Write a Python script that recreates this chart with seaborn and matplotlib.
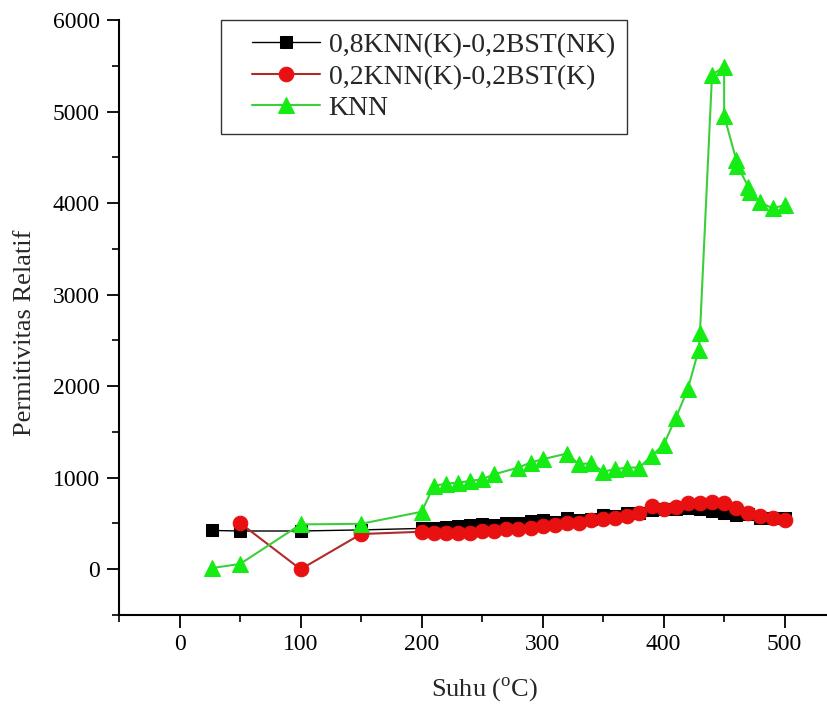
import matplotlib
matplotlib.use("Agg")
import matplotlib.pyplot as plt
import seaborn as sns
import pandas as pd
from matplotlib.ticker import MultipleLocator
from matplotlib.legend_handler import HandlerLine2D
from matplotlib.lines import Line2D

# ---- data ----
temp_nk = [27, 50, 100, 150, 200, 210, 220, 230, 240, 250, 260, 270, 280, 290, 300,
           310, 320, 330, 340, 350, 360, 370, 380, 390, 400, 410, 420, 430, 440, 450,
           460, 470, 480, 490, 500]
perm_nk = [424, 418, 418, 430, 446, 455, 460, 470, 480, 490, 480, 510, 500, 526, 537,
           520, 560, 540, 545, 590, 580, 615, 610, 645, 655, 660, 665, 655, 636, 617,
           592, 600, 563, 560, 563]

temp_k = [50, 100, 150, 200, 210, 220, 230, 240, 250, 260, 270, 280, 290, 300,
          310, 320, 330, 340, 350, 360, 370, 380, 390, 400, 410, 420, 430, 440, 450,
          460, 470, 480, 490, 500]
perm_k = [505, 0, 385, 410, 400, 400, 400, 400, 417, 417, 435, 440, 455, 471,
          482, 500, 508, 537, 545, 563, 581, 610, 690, 654, 683, 727, 720, 738, 727,
          672, 617, 581, 563, 534]

temp_knn = [27, 50, 100, 150, 200, 210, 220, 230, 240, 250, 260, 280, 290, 300,
            320, 330, 340, 350, 360, 370, 380, 390, 400, 410, 420, 429, 430, 440,
            450, 450, 460, 461, 470, 471, 480, 490, 500]
perm_knn = [14, 58, 490, 497, 628, 910, 935, 946, 965, 983, 1038, 1111, 1166, 1202,
            1264, 1148, 1159, 1067, 1093, 1111, 1111, 1239, 1360, 1652, 1970, 2400, 2576, 5404,
            5489, 4955, 4473, 4407, 4180, 4125, 4009, 3943, 3979]

labels = ["0,8KNN(K)-0,2BST(NK)", "0,2KNN(K)-0,2BST(K)", "KNN"]
x_ticks = [0, 100, 200, 300, 400, 500]
y_ticks = [0, 1000, 2000, 3000, 4000, 5000, 6000]

df_nk = pd.DataFrame({"Suhu": temp_nk, "Perm": perm_nk})
df_k = pd.DataFrame({"Suhu": temp_k, "Perm": perm_k})
df_knn = pd.DataFrame({"Suhu": temp_knn, "Perm": perm_knn})

sns.set_theme(style="ticks")
plt.rcParams["font.family"] = ["Liberation Serif", "DejaVu Serif"]
plt.rcParams["mathtext.fontset"] = "custom"
plt.rcParams["mathtext.rm"] = "Liberation Serif"

fig = plt.figure(figsize=(8.27, 7.04), dpi=100)
ax = fig.add_axes([0.144, 0.1264, 0.856, 0.845])

sns.lineplot(data=df_nk, x="Suhu", y="Perm", ax=ax, sort=False, estimator=None,
             color="black", lw=1.0, marker="s", markersize=9,
             markerfacecolor="black", markeredgecolor="black", label=labels[0])
sns.lineplot(data=df_k, x="Suhu", y="Perm", ax=ax, sort=False, estimator=None,
             color="#b02a2a", lw=1.5, marker="o", markersize=10.5,
             markerfacecolor="#e81010", markeredgecolor="#e81010", label=labels[1])
sns.lineplot(data=df_knn, x="Suhu", y="Perm", ax=ax, sort=False, estimator=None,
             color="#3ccf3c", lw=1.5, marker="^", markersize=11,
             markerfacecolor="#14ec14", markeredgecolor="#14ec14", label=labels[2])

ax.set_xlim(-50, 535)
ax.set_ylim(-500, 6000)
ax.set_xticks(x_ticks)
ax.set_yticks(y_ticks)
ax.xaxis.set_minor_locator(MultipleLocator(50))
ax.yaxis.set_minor_locator(MultipleLocator(500))
ax.tick_params(which="major", direction="out", length=9, width=1.3, labelsize=17,
               colors="black", pad=5)
ax.tick_params(which="minor", direction="out", length=5, width=1.2, colors="black")
for s in ["top", "right"]:
    ax.spines[s].set_visible(False)
for s in ["left", "bottom"]:
    ax.spines[s].set_linewidth(1.5)
    ax.spines[s].set_color("black")

ax.set_xlabel(r"Suhu ($^{\mathrm{o}}$C)", fontsize=19)
ax.set_ylabel("Permitivitas Relatif", fontsize=19)
ax.xaxis.set_label_coords((484 - 119) / 708, -(690 - 615) / 595)
ax.yaxis.set_label_coords(-(119 - 25) / 708, (615 - 333) / 595)
ax.xaxis.label.set_va("center")
ax.yaxis.label.set_va("center")


class ShiftedLineHandler(HandlerLine2D):
    """Line handle drawn with an extra left margin inside the legend."""
    def __init__(self, shift_em=0.68, **kw):
        super().__init__(**kw)
        self.shift_em = shift_em

    def create_artists(self, legend, orig_handle, xdescent, ydescent, width,
                       height, fontsize, trans):
        shift = self.shift_em * fontsize
        return super().create_artists(legend, orig_handle, xdescent - shift,
                                      ydescent, width - shift, height,
                                      fontsize, trans)


leg = ax.legend(loc="upper left", bbox_to_anchor=(0.144, 1.0), borderaxespad=0,
                fontsize=20, frameon=True, fancybox=False, edgecolor="black",
                handlelength=3.13, handletextpad=0.29, labelspacing=0.22,
                borderpad=0.45, handler_map={Line2D: ShiftedLineHandler()})
leg.get_frame().set_linewidth(1.0)

fig.savefig("out.png", dpi=100)
